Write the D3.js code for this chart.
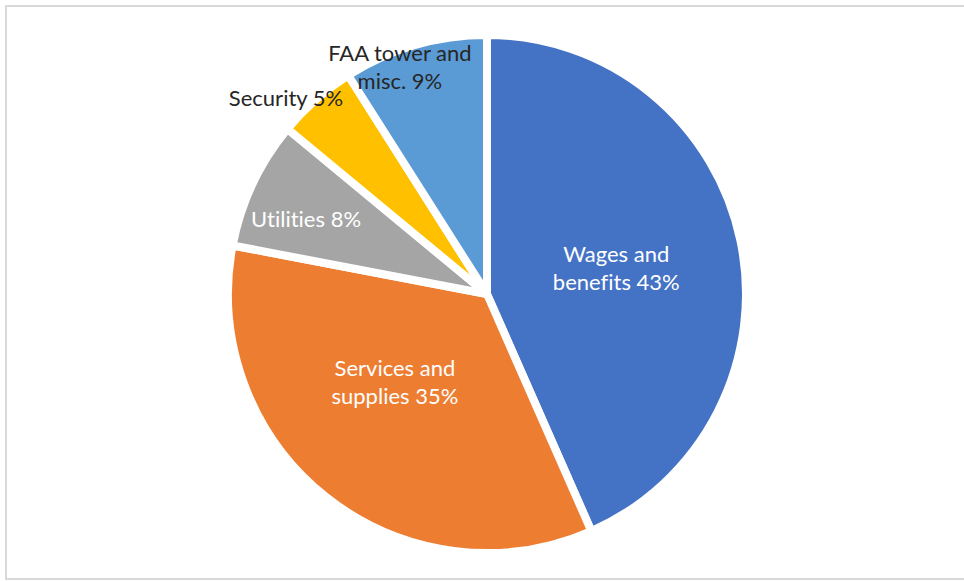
<!DOCTYPE html>
<html>
<head>
<meta charset="utf-8">
<script src="https://cdn.jsdelivr.net/npm/d3@7"></script>
<style>
	html, body { margin: 0; padding: 0; background: #fff; }
	svg { display: block; }
	text { font-variant-ligatures: none; font-feature-settings: "liga" 0; }
</style>
</head>
<body>
<svg id="chart" width="964" height="581"></svg>
<script>
// Operating expense breakdown pie

// data
var categories = ['Wages and benefits', 'Services and supplies', 'Utilities', 'Security', 'FAA tower and misc.']
var shares = [43.4, 34.6, 8, 5, 9]
// how each category name is broken over lines in its label
var nameLines = [
	['Wages and', 'benefits'],
	['Services and', 'supplies'],
	['Utilities'],
	['Security'],
	['FAA tower and', 'misc.']
]

// styling / layout
var colors = ['#4472C4', '#ED7D31', '#A5A5A5', '#FFC000', '#5B9BD5']
var labelColors = ['#fff', '#fff', '#fff', '#262626', '#262626']
// label placement: fraction of radius, angle nudge in degrees, y nudge
var labelPlace = [[0.51, 0, 9], [0.49, 8, 9], [0.76, -2, 11], [1.09, -4, 10], [0.93, -5, 6]]

var svg = d3.select('#chart'),
	cx = 487, cy = 294,
	radius = 259,
	lineHeight = 28

var total = d3.sum(shares)

// light frame like the source chart area
svg.append('rect')
	.attr('x', 6).attr('y', 6)
	.attr('width', 964).attr('height', 573)
	.attr('fill', 'none')
	.attr('stroke', '#d9d9d9')
	.attr('stroke-width', 2)

var g = svg.append('g').attr('transform', 'translate(' + cx + ',' + cy + ')')

var pie = d3.pie().sort(null).value(function(d) { return d.value })
var arcs = pie(categories.map(function(c, i) { return {name: c, value: shares[i], i: i} }))

var arc = d3.arc().innerRadius(0).outerRadius(radius)

g.selectAll('path.slice').data(arcs)
	.enter().append('path')
	.attr('class', 'slice')
	.attr('d', arc)
	.attr('fill', function(d) { return colors[d.data.i] })
	.attr('stroke', '#fff')
	.attr('stroke-width', 8)

function labelText(i) {
	var lines = nameLines[i].slice()
	var pct = Math.round(shares[i] / total * 100) + '%'
	lines[lines.length - 1] += ' ' + pct
	return lines
}

// labels
var labels = g.selectAll('text.lbl').data(arcs)
	.enter().append('text')
	.attr('class', 'lbl')
	.attr('text-anchor', 'middle')
	.attr('font-family', 'Lato, "Open Sans", sans-serif')
	.attr('font-size', 22)
	.attr('fill', function(d) { return labelColors[d.data.i] })
	.attr('transform', function(d) {
		var p = labelPlace[d.data.i]
		var a = (d.startAngle + d.endAngle) / 2 + p[1] * Math.PI / 180
		var r = radius * p[0]
		var x = r * Math.sin(a), y = -r * Math.cos(a)
		var n = nameLines[d.data.i].length
		// centre the block of lines on the point
		return 'translate(' + x + ',' + (y - (n - 1) * lineHeight / 2 + p[2]) + ')'
	})

labels.selectAll('tspan')
	.data(function(d) { return labelText(d.data.i) })
	.enter().append('tspan')
	.attr('x', 0)
	.attr('dy', function(d, i) { return i ? lineHeight : 0 })
	.text(function(d) { return d })
</script>
</body>
</html>
